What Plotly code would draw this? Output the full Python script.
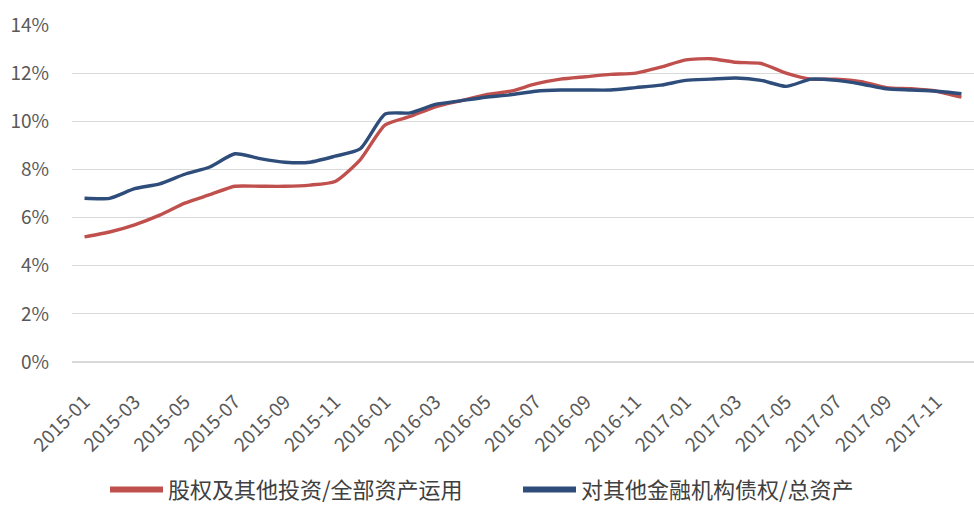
import plotly.graph_objects as go

months = [f"{y}-{m:02d}" for y in (2015, 2016, 2017) for m in range(1, 13)]

equity_ratio = [5.2, 5.4, 5.7, 6.1, 6.6, 6.95, 7.3, 7.3, 7.3, 7.35, 7.5, 8.4,
                9.85, 10.2, 10.6, 10.85, 11.1, 11.25, 11.55, 11.75, 11.85, 11.95, 12.0, 12.25,
                12.55, 12.6, 12.45, 12.4, 12.0, 11.75, 11.75, 11.65, 11.4, 11.35, 11.25, 11.0]
claims_ratio = [6.8, 6.8, 7.2, 7.4, 7.8, 8.1, 8.65, 8.45, 8.3, 8.3, 8.55, 8.85,
                10.3, 10.35, 10.7, 10.85, 11.0, 11.1, 11.25, 11.3, 11.3, 11.3, 11.4, 11.5,
                11.7, 11.75, 11.8, 11.7, 11.45, 11.75, 11.7, 11.55, 11.35, 11.3, 11.25, 11.15]

series_names = ["股权及其他投资/全部资产运用", "对其他金融机构债权/总资产"]
series_colors = ["#C0504D", "#2E4D7B"]
tick_labels = months[::2]
y_ticks = [0, 2, 4, 6, 8, 10, 12, 14]

fig = go.Figure()
for vals, name, color, lg in zip([equity_ratio, claims_ratio], series_names, series_colors,
                                 ["legend", "legend2"]):
    fig.add_trace(go.Scatter(x=months, y=vals, name=name, mode="lines", legend=lg,
                             showlegend=False,
                             line=dict(color=color, width=3.4, shape="spline", smoothing=0.6)))
    # legend-only entry with a thicker swatch line (no data of its own)
    fig.add_trace(go.Scatter(x=[None], y=[None], name=name, mode="lines", legend=lg,
                             line=dict(color=color, width=6)))

font_family = "Noto Sans CJK SC, Noto Sans, sans-serif"
legend_style = dict(orientation="h", xanchor="left", y=-0.379, yanchor="middle",
                    itemwidth=53,
                    font=dict(size=22, color="#404040"), bgcolor="rgba(0,0,0,0)")
fig.update_layout(
    width=974, height=511,
    margin=dict(l=72, r=0, t=25, b=146),
    plot_bgcolor="white", paper_bgcolor="white",
    font=dict(family=font_family, color="#595959", size=13),
    showlegend=True,
    legend=dict(x=(105 - 72) / 902, **legend_style),
    legend2=dict(x=(518 - 72) / 902, **legend_style),
    xaxis=dict(type="category", categoryorder="array", categoryarray=months,
               range=[-0.5, 35.5], tickmode="array", tickvals=tick_labels, ticktext=tick_labels,
               tickangle=-45, showgrid=False, showline=False, ticks="",
               ticklabelstandoff=24,
               tickfont=dict(size=19, color="#595959")),
    yaxis=dict(range=[0, 14], tickvals=y_ticks, ticktext=[f"{v}%" for v in y_ticks],
               showgrid=True, gridcolor="#D9D9D9", gridwidth=1, zeroline=True,
               zerolinecolor="#D9D9D9", showline=False, ticks="",
               ticklabelstandoff=22,
               tickfont=dict(size=19, color="#595959")),
)

fig.write_html("out.html")
